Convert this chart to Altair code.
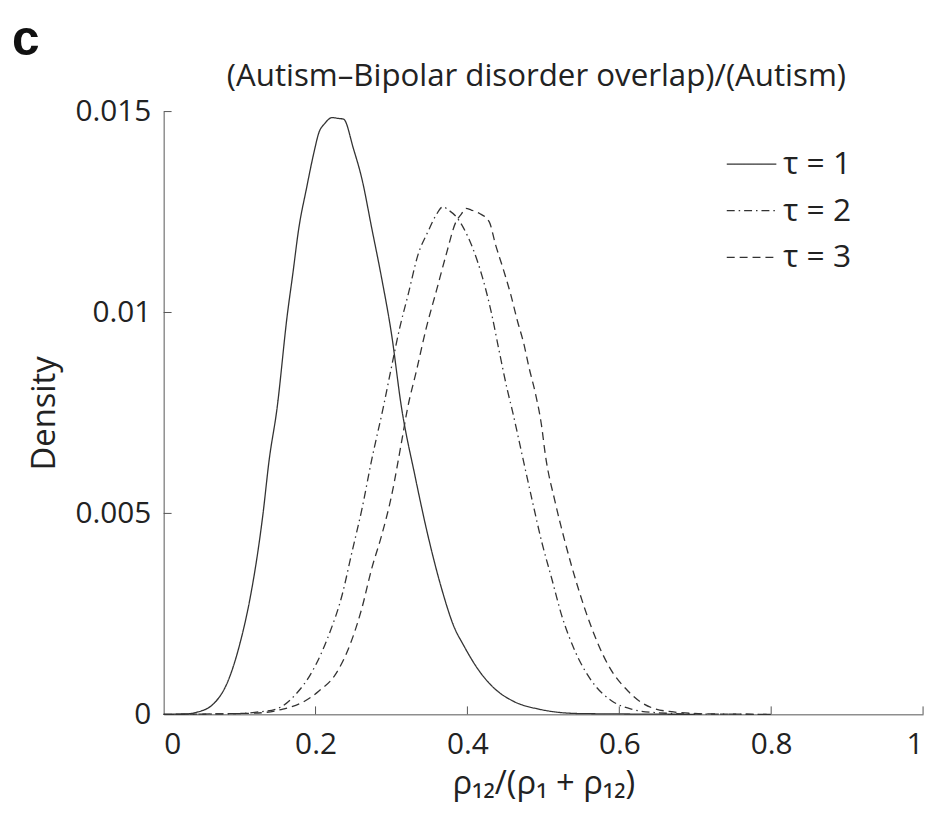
import altair as alt
import pandas as pd

# ---- data ----
series_names = ["τ = 1", "τ = 2", "τ = 3"]

tau1_x = [0.0, 0.03, 0.043, 0.065, 0.085, 0.100, 0.113, 0.124, 0.1305, 0.139, 0.149,
          0.163, 0.170, 0.178, 0.188, 0.198, 0.2045, 0.212, 0.222, 0.230, 0.237,
          0.250, 0.261, 0.274, 0.287, 0.300, 0.313, 0.331, 0.348, 0.366, 0.383,
          0.394, 0.4155, 0.437, 0.459, 0.494, 0.546, 0.60, 0.70]
tau1_y = [0.0, 0.00001, 0.00005, 0.00025, 0.00084, 0.00173, 0.00281, 0.00404, 0.00494, 0.00634, 0.00757,
          0.00997, 0.01095, 0.0121, 0.01308, 0.01399, 0.01448, 0.01470, 0.01485, 0.01483, 0.01481,
          0.01407, 0.01333, 0.0121, 0.01086, 0.00947, 0.00766, 0.00593, 0.00445, 0.00313, 0.00215,
          0.00175, 0.00108, 0.00062, 0.00034, 0.00013, 0.00002, 0.00001, 0.0]

tau2_x = [0.0, 0.10, 0.12, 0.148, 0.174, 0.196, 0.2176, 0.235, 0.248, 0.261, 0.274,
          0.289, 0.300, 0.311, 0.322, 0.335, 0.348, 0.358, 0.368, 0.375, 0.385,
          0.395, 0.407, 0.420, 0.431, 0.4417, 0.4526, 0.459, 0.472, 0.485, 0.498,
          0.511, 0.524, 0.5418, 0.5636, 0.5897, 0.6158, 0.65, 0.70, 0.80]
tau2_y = [0.0, 0.00002, 0.00005, 0.00013, 0.0005, 0.00108, 0.00198, 0.00297, 0.00404, 0.0051, 0.00634,
          0.00762, 0.00864, 0.00963, 0.01045, 0.01144, 0.01201, 0.0124, 0.01263, 0.01255, 0.01239,
          0.0121, 0.0116, 0.01086, 0.01004, 0.00905, 0.00807, 0.00757, 0.00646, 0.00535, 0.00428,
          0.00338, 0.00247, 0.00157, 0.00083, 0.00034, 0.00013, 0.00004, 0.00001, 0.0]

tau3_x = [0.0, 0.12, 0.157, 0.183, 0.2045, 0.226, 0.2437, 0.261, 0.274, 0.287, 0.300,
          0.313, 0.321, 0.333, 0.346, 0.359, 0.372, 0.385, 0.392, 0.398, 0.405,
          0.4155, 0.4286, 0.437, 0.448, 0.457, 0.4657, 0.4743, 0.481, 0.4896, 0.4975,
          0.5026, 0.5157, 0.5287, 0.546, 0.5636, 0.585, 0.6114, 0.642, 0.676, 0.72, 0.80]
tau3_y = [0.0, 0.00003, 0.00013, 0.0003, 0.00058, 0.00099, 0.00165, 0.00264, 0.00363, 0.00445, 0.00543,
          0.00675, 0.0076, 0.00856, 0.00963, 0.01053, 0.01144, 0.01226, 0.01245, 0.01259, 0.01255,
          0.01247, 0.01226, 0.01169, 0.01103, 0.01045, 0.0098, 0.00922, 0.00864, 0.00798, 0.0072,
          0.00646, 0.00527, 0.00428, 0.00313, 0.00215, 0.00124, 0.00058, 0.00017, 0.00005, 0.00001, 0.0]

x_ticks = [0, 0.2, 0.4, 0.6, 0.8, 1]
y_ticks = [0, 0.005, 0.01, 0.015]

title_text = "(Autism\u2013Bipolar disorder overlap)/(Autism)"
x_title = "ρ₁₂/(ρ₁ + ρ₁₂)"
y_title = "Density"
panel_label = "c"

# ---- build table ----
rows = []
for name, xs, ys in zip(series_names, [tau1_x, tau2_x, tau3_x], [tau1_y, tau2_y, tau3_y]):
    for xv, yv in zip(xs, ys):
        rows.append({"x": xv, "density": yv, "series": name})
df = pd.DataFrame(rows)

W, H = 766, 608
FONT = "Open Sans"
INK = "#222"

x_scale = alt.Scale(domain=[0, 1], nice=False, zero=False)
y_scale = alt.Scale(domain=[0, 0.015], nice=False, zero=False)
x_axis = alt.Axis(values=x_ticks, labelExpr="toString(datum.value)", title=x_title, ticks=False,
                  labelPadding=15, titlePadding=9, grid=False)
y_axis = alt.Axis(values=y_ticks, labelExpr="toString(datum.value)", title=y_title, ticks=False,
                  labelPadding=13, titlePadding=14, grid=False)

lines = alt.Chart(df).mark_line(strokeWidth=1.3, color="#333", interpolate="monotone").encode(
    x=alt.X("x:Q", scale=x_scale, axis=x_axis),
    y=alt.Y("density:Q", scale=y_scale, axis=y_axis),
    strokeDash=alt.StrokeDash(
        "series:N",
        scale=alt.Scale(domain=series_names, range=[[1, 0], [8, 4, 1.5, 4], [8, 5]]),
        legend=alt.Legend(title=None, orient="none", legendX=567, legendY=27,
                          symbolType="stroke", symbolSize=2500, symbolStrokeWidth=1.3,
                          symbolStrokeColor="#333", labelFont=FONT, labelFontSize=32,
                          labelColor=INK, rowPadding=5, labelOffset=6, padding=0),
    ),
    order=alt.Order("x:Q"),
)

xt = alt.Chart(pd.DataFrame({"x": x_ticks[1:]})).mark_rule(color="#555", strokeWidth=1).encode(
    x=alt.X("x:Q", scale=x_scale, axis=x_axis),
    y=alt.value(H), y2=alt.value(H - 8),
)
yt = alt.Chart(pd.DataFrame({"density": y_ticks[1:]})).mark_rule(color="#555", strokeWidth=1).encode(
    y=alt.Y("density:Q", scale=y_scale, axis=y_axis),
    x=alt.value(0), x2=alt.value(8),
)
label = alt.Chart(pd.DataFrame({"t": [panel_label]})).mark_text(
    font="Liberation Sans", fontWeight="bold", fontSize=50, align="left",
    baseline="alphabetic", color="#111").encode(
    text="t:N", x=alt.value(-153), y=alt.value(-57))
title = alt.Chart(pd.DataFrame({"t": [title_text]})).mark_text(
    font=FONT, fontSize=31.5, align="center", baseline="middle", color=INK).encode(
    text="t:N", x=alt.value(W / 2 - 7), y=alt.value(-35))

chart = alt.layer(lines, xt, yt, label, title).properties(
    width=W, height=H,
    autosize=alt.AutoSizeParams(type="none"),
    padding={"left": 157, "top": 101, "right": 8, "bottom": 90},
    background="white",
).configure_view(stroke=None).configure_axis(
    domainColor="#555", domainWidth=1, labelFont=FONT, labelFontSize=30, labelColor=INK,
    titleFont=FONT, titleFontSize=33, titleFontWeight="normal", titleColor=INK,
)

chart.save("out.html", embed_options={"renderer": "svg", "actions": False})
